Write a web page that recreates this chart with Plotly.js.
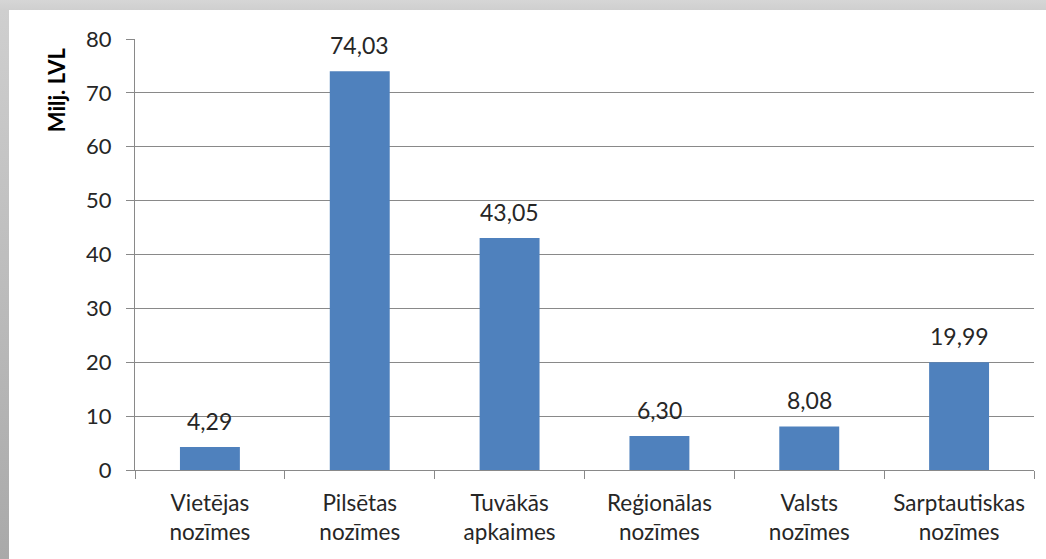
<!DOCTYPE html>
<html>
<head>
<meta charset="utf-8">
<script src="https://cdn.plot.ly/plotly-3.0.1.min.js"></script>
<style>
  html, body { margin: 0; padding: 0; }
  body {
    width: 1046px; height: 559px; overflow: hidden; position: relative;
    background: linear-gradient(to bottom, #d6d6d6 0px, #cfcfcf 10px, #a9a9a9 559px);
  }
  #chart { position: absolute; left: 9px; top: 10px; width: 1037px; height: 549px; background: #fff; }
</style>
</head>
<body>
<div id="chart"></div>
<script>
(function () {
    // Kategorijas un vērtības (milj. LVL)
    const categories = [
        'Vietējas<br>nozīmes',
        'Pilsētas<br>nozīmes',
        'Tuvākās<br>apkaimes',
        'Reģionālas<br>nozīmes',
        'Valsts<br>nozīmes',
        'Sarptautiskas<br>nozīmes'
    ];
    const values = [4.29, 74.03, 43.05, 6.30, 8.08, 19.99];
    const valueLabels = ['4,29', '74,03', '43,05', '6,30', '8,08', '19,99'];

    const textColor = '#262626';
    const lineColor = '#898989';

    const trace = {
        type: 'bar',
        x: categories,
        y: values,
        marker: { color: '#4f81bd' },
        hoverinfo: 'x+y'
    };

    // Vērtību uzraksti virs stabiņiem
    const annotations = categories.map(function (c, i) {
        return {
            x: c,
            y: values[i],
            xref: 'x',
            yref: 'y',
            text: valueLabels[i],
            showarrow: false,
            yanchor: 'bottom',
            yshift: 10,
            font: { family: 'Lato, sans-serif', size: 23, color: textColor }
        };
    });

    // Ass nosaukums augšā pa kreisi
    annotations.push({
        xref: 'paper',
        yref: 'paper',
        x: -0.087,
        y: 0.883,
        xanchor: 'center',
        yanchor: 'middle',
        textangle: -90,
        showarrow: false,
        text: '<b>Milj. LVL</b>',
        font: { family: 'Lato, sans-serif', size: 22, color: '#000000' }
    });

    const layout = {
        width: 1037,
        height: 549,
        margin: { l: 126, r: 12, t: 29, b: 89 },
        paper_bgcolor: '#ffffff',
        plot_bgcolor: '#ffffff',
        bargap: 0.6,
        showlegend: false,
        font: { family: 'Lato, sans-serif', size: 22, color: textColor },
        xaxis: {
            type: 'category',
            showline: true,
            linecolor: lineColor,
            linewidth: 1,
            ticks: 'outside',
            tickson: 'boundaries',
            ticklen: 8,
            tickcolor: lineColor,
            showgrid: false,
            ticklabelstandoff: 13,
            tickfont: { size: 22.5, color: textColor }
        },
        yaxis: {
            range: [0, 80],
            dtick: 10,
            showline: true,
            linecolor: lineColor,
            ticks: 'outside',
            ticklen: 8,
            tickcolor: lineColor,
            showgrid: true,
            gridcolor: lineColor,
            gridwidth: 1,
            zeroline: false,
            ticklabelstandoff: 10,
            tickfont: { size: 22, color: textColor }
        },
        annotations: annotations
    };

    Plotly.newPlot('chart', [trace], layout, { displayModeBar: false, staticPlot: true });
})();
</script>
</body>
</html>
